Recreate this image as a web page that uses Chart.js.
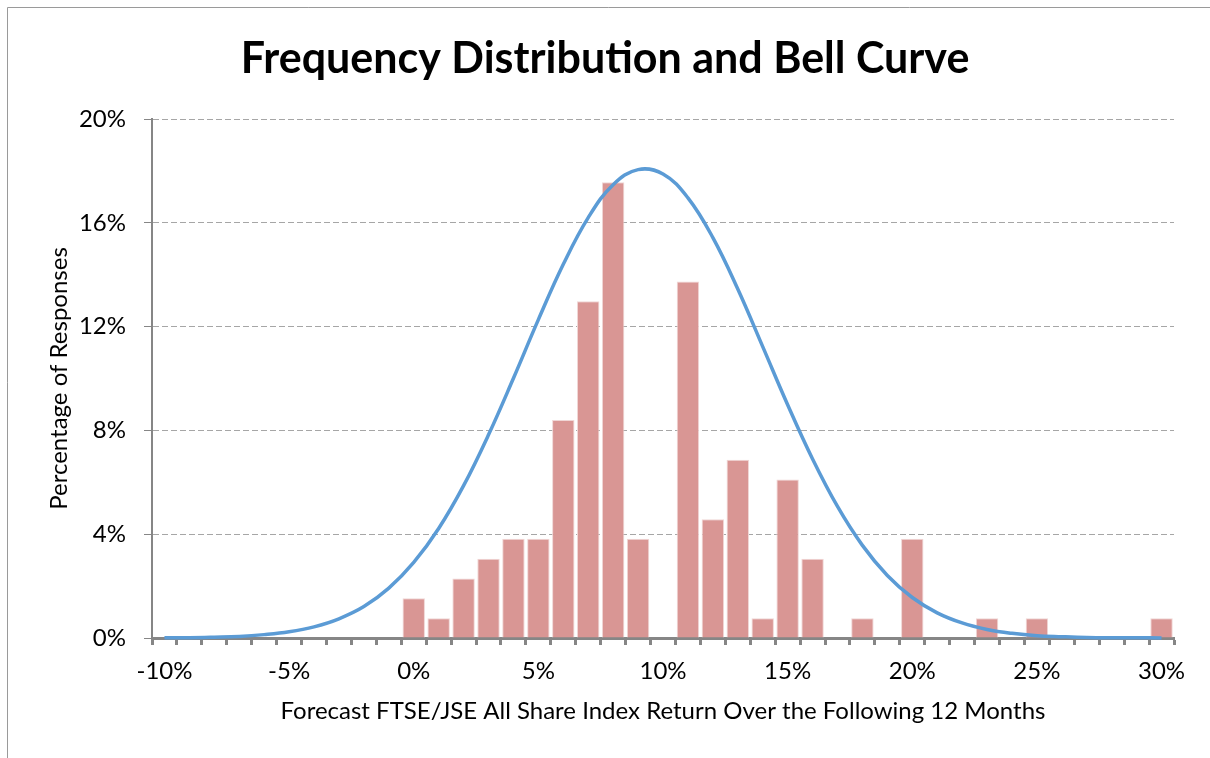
<!DOCTYPE html>
<html>
<head>
<meta charset="utf-8">
<script src="https://cdn.jsdelivr.net/npm/chart.js@4.4.0/dist/chart.umd.min.js"></script>
<style>
  html, body { margin: 0; padding: 0; background: #fff; }
  #wrap { width: 1210px; height: 758px; }
</style>
</head>
<body>
<div id="wrap"><canvas id="chFreq" width="1210" height="758"></canvas></div>
<script>
// forecast return buckets (%)
var categories = [-10,-9,-8,-7,-6,-5,-4,-3,-2,-1,0,1,2,3,4,5,6,7,8,9,10,11,12,13,14,15,16,17,18,19,20,21,22,23,24,25,26,27,28,29,30];

// share of responses per bucket (%)
var responsePct = [null,null,null,null,null,null,null,null,null,null,
  1.53, 0.76, 2.29, 3.05, 3.82, 3.82, 8.40, 12.98, 17.56, 3.82,
  0, 13.74, 4.58, 6.87, 0.76, 6.11, 3.05, 0, 0.76, 0,
  3.82, 0, 0, 0.76, 0, 0.76, 0, 0, 0, 0, 0.76];

// bell curve (%)
var bellPct = [0.01, 0.01, 0.03, 0.06, 0.13, 0.24, 0.43, 0.74, 1.21, 1.92,
  2.91, 4.22, 5.87, 7.83, 10.01, 12.27, 14.40, 16.20, 17.47, 18.05,
  17.88, 16.96, 15.43, 13.45, 11.23, 8.99, 6.90, 5.07, 3.57, 2.41,
  1.56, 0.97, 0.58, 0.33, 0.18, 0.09, 0.05, 0.02, 0.01, 0.01, 0.00];

var yTicks = [0, 4, 8, 12, 16, 20];

var fontFam = 'Lato, "Open Sans", sans-serif';
var axisGrey = '#868686';

// border of the chart object (only top/left edge visible in the crop)
var frameLines = {
  id: 'frameLines',
  afterDraw: function(chart) {
    var ctx = chart.ctx;
    ctx.save();
    ctx.strokeStyle = '#9a9a9a';
    ctx.lineWidth = 1;
    ctx.beginPath();
    ctx.moveTo(7.5, 758);
    ctx.lineTo(7.5, 7.5);
    ctx.lineTo(1210, 7.5);
    ctx.stroke();
    ctx.restore();
  }
};

new Chart(document.getElementById('chFreq'), {
  type: 'bar',
  data: {
    labels: categories,
    datasets: [
      {
        type: 'line',
        data: bellPct,
        borderColor: '#5b9bd5',
        borderWidth: 3.5,
        pointRadius: 0,
        tension: 0.4,
        fill: false,
        clip: 6,
        order: 0
      },
      {
        type: 'bar',
        data: responsePct,
        backgroundColor: '#d99694',
        borderColor: '#f0d6d5',
        borderWidth: 1,
        barPercentage: 0.9,
        categoryPercentage: 1.0,
        order: 1
      }
    ]
  },
  options: {
    responsive: false,
    animation: false,
    layout: { padding: 0 },
    plugins: {
      legend: { display: false },
      tooltip: { enabled: false },
      title: {
        display: true,
        text: 'Frequency Distribution and Bell Curve',
        color: '#000',
        font: { family: fontFam, size: 43, weight: 'bold' },
        padding: { top: 33, bottom: 34.4 }
      }
    },
    scales: {
      x: {
        type: 'category',
        offset: true,
        grid: {
          offset: true,
          drawOnChartArea: false,
          tickLength: 7,
          tickWidth: 3,
          tickColor: axisGrey
        },
        border: { color: axisGrey, width: 3 },
        ticks: {
          autoSkip: false,
          maxRotation: 0,
          color: '#000',
          padding: 12,
          font: { family: fontFam, size: 24 },
          callback: function(v, i) {
            return categories[i] % 5 === 0 ? categories[i] + '%' : '';
          }
        },
        title: {
          display: true,
          text: 'Forecast FTSE/JSE All Share Index Return Over the Following 12 Months',
          color: '#000',
          font: { family: fontFam, size: 24 },
          padding: { top: 0, bottom: 32 }
        },
        afterFit: function(s) { s.height = 120; }
      },
      y: {
        min: yTicks[0],
        max: yTicks[yTicks.length - 1],
        grid: {
          color: '#a6a6a6',
          lineWidth: 1,
          tickLength: 8,
          tickColor: axisGrey
        },
        border: { color: axisGrey, width: 2, dash: [6, 3] },
        ticks: {
          stepSize: 4,
          color: '#000',
          padding: 18,
          font: { family: fontFam, size: 24 },
          callback: function(v) { return v + '%'; }
        },
        title: {
          display: true,
          text: 'Percentage of Responses',
          color: '#000',
          font: { family: fontFam, size: 24 },
          padding: { top: 45 }
        },
        afterFit: function(s) { s.width = 152; }
      },
      yPad: {
        position: 'right',
        display: true,
        grid: { display: false },
        border: { display: false },
        ticks: { display: false },
        afterFit: function(s) { s.width = 36; }
      }
    }
  },
  plugins: [frameLines]
});
</script>
</body>
</html>
